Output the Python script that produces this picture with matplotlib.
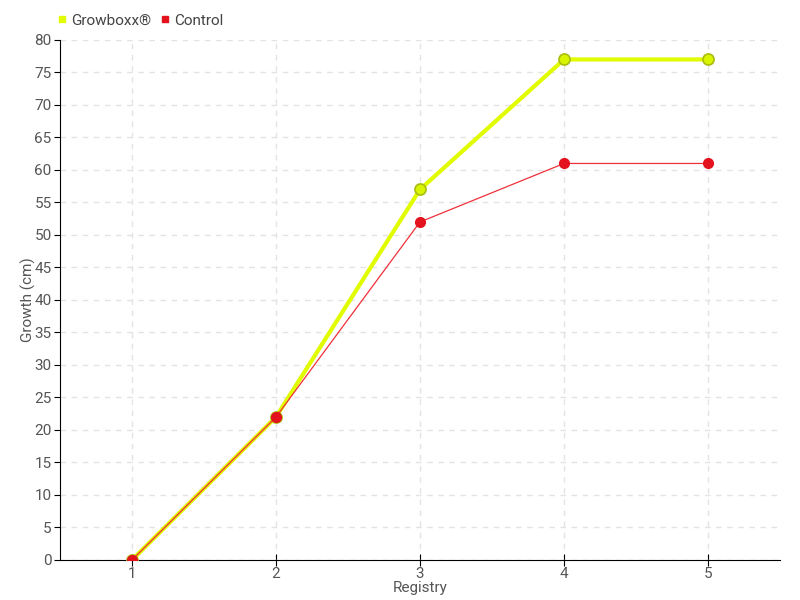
import matplotlib.pyplot as plt
from matplotlib.lines import Line2D

plt.rcParams['font.family'] = ['Roboto', 'DejaVu Sans']

registry = [1, 2, 3, 4, 5]
growboxx = [0, 22, 57, 77, 77]
control = [0, 22, 52, 61, 61]

fig = plt.figure(figsize=(8, 6), dpi=100)
ax = fig.add_axes([0.075, 0.0667, 0.9, 0.8667])

ax.plot(registry, growboxx, color='#e1fb00', lw=3, marker='o', ms=8,
        markerfacecolor='#d8f400', markeredgecolor='#a9bd10', markeredgewidth=1.2, zorder=3)
ax.plot(registry, control, color='#f0303a', lw=0.9, marker='o', ms=7,
        markerfacecolor='#e3121c', markeredgecolor='#e3121c', zorder=4)

ax.set_xlim(0.5, 5.5)
ax.set_ylim(0, 80)
ax.set_xticks(registry)
ax.set_yticks(range(0, 81, 5))
ax.tick_params(colors='#555555', labelsize=11, length=4, pad=2)
ax.tick_params(axis='x', direction='inout', length=8, pad=1)
ax.tick_params(axis='both', color='black')
ax.grid(True, ls=(0, (4, 4)), color='#e3e3e3', lw=1)
ax.set_axisbelow(True)
for s in ['top', 'right']:
    ax.spines[s].set_visible(False)
ax.spines['left'].set_color('black')
ax.spines['bottom'].set_color('black')

ax.set_xlabel('Registry', color='#555555', fontsize=11, labelpad=0)
ax.set_ylabel('Growth (cm)', color='#555555', fontsize=11, labelpad=-1)

handles = [Line2D([], [], ls='', marker='s', ms=5, color='#e1fb00'),
           Line2D([], [], ls='', marker='s', ms=5, color='#e3121c')]
fig.legend(handles, ['Growboxx®', 'Control'], loc='upper left', bbox_to_anchor=(0.055, 1.0),
           ncol=2, frameon=False, fontsize=11, handlelength=0.6, handletextpad=0.3,
           columnspacing=0.6, labelcolor='#444444')

fig.savefig('out.png', dpi=100)
